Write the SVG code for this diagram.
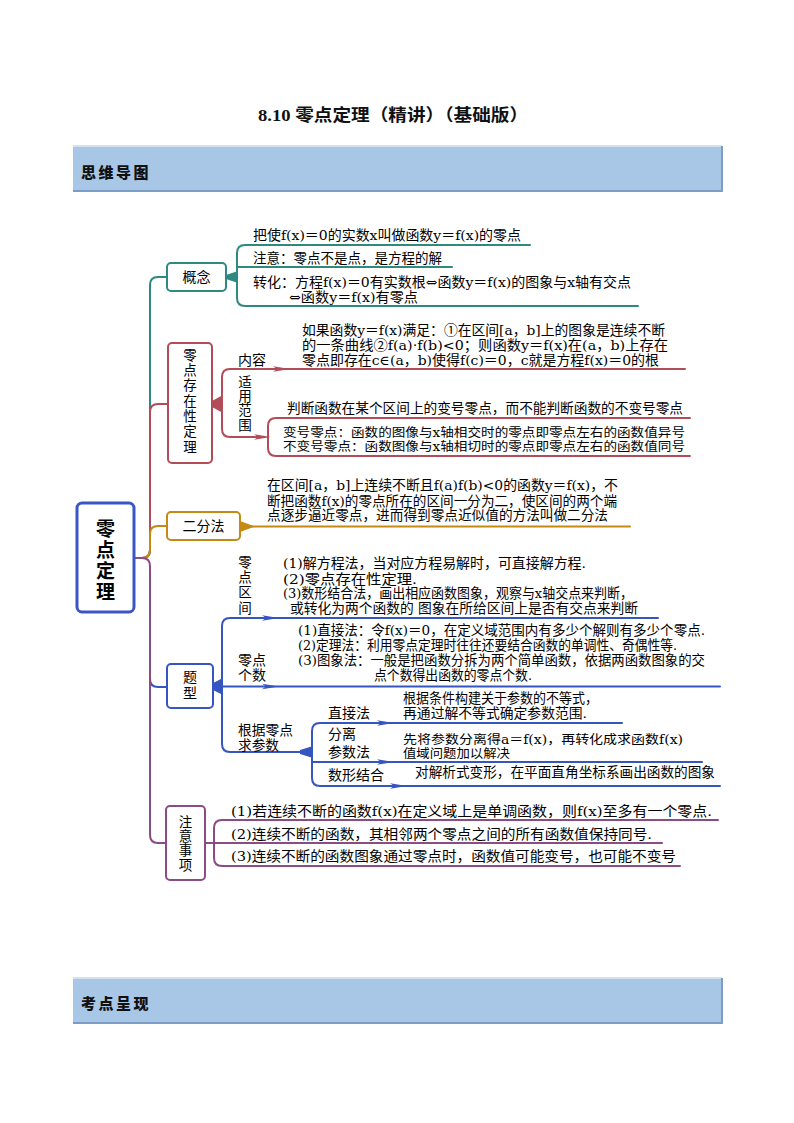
<svg xmlns="http://www.w3.org/2000/svg" width="794" height="1123" viewBox="0 0 794 1123">
<defs>
<path id="dart" d="M0,-2.8 L17,0 L0,2.8 L4,0 Z"/>
</defs>
<style>
.t{font-family:"DejaVu Serif","Noto Sans CJK SC",serif;font-size:13.5px;fill:#000}
.s{font-size:12.5px}
.lb{font-family:"Noto Sans CJK SC",sans-serif;font-size:14px;fill:#000}
.vt{font-family:"Noto Sans CJK SC",sans-serif;font-size:13.5px;fill:#000;writing-mode:vertical-rl}
.c{text-anchor:middle}
.title{font-family:"Liberation Serif","Noto Sans CJK SC",serif;font-size:17px;font-weight:bold;fill:#111}
.hd{font-family:"Noto Sans CJK SC",sans-serif;font-size:15px;font-weight:900;fill:#111;letter-spacing:2.5px}
.box{fill:#fff;stroke-width:2}
.ln{fill:none;stroke-width:2;stroke-linecap:round;stroke-linejoin:round}
.teal{stroke:#2E8A80}.tealf{fill:#2E8A80}
.mar{stroke:#B24C58}.marf{fill:#B24C58}
.gold{stroke:#C48A14}.goldf{fill:#C48A14}
.blue{stroke:#3555C0}.bluef{fill:#3555C0}
.pur{stroke:#8B4C86}.purf{fill:#8B4C86}
</style>

<rect width="794" height="1123" fill="#fff"/>

<text class="title" x="258" y="121" textLength="270" lengthAdjust="spacingAndGlyphs">8.10 零点定理（精讲）（基础版）</text>

<g id="header1">
<rect x="73" y="146" width="649" height="45" fill="#A8C6E6"/>
<line x1="73" y1="146" x2="722" y2="146" stroke="#D3E2F2" stroke-width="2"/>
<line x1="73" y1="191" x2="722" y2="191" stroke="#7C9CC8" stroke-width="2"/>
<line x1="722" y1="146" x2="722" y2="192" stroke="#7C9CC8" stroke-width="2"/>
<text class="hd" x="81" y="178">思维导图</text>
</g>

<g id="header2">
<rect x="73" y="978" width="649" height="45" fill="#A8C6E6"/>
<line x1="73" y1="978" x2="722" y2="978" stroke="#D3E2F2" stroke-width="2"/>
<line x1="73" y1="1023" x2="722" y2="1023" stroke="#7C9CC8" stroke-width="2"/>
<line x1="722" y1="978" x2="722" y2="1024" stroke="#7C9CC8" stroke-width="2"/>
<text class="hd" x="81" y="1009">考点呈现</text>
</g>

<g id="connectors">
<path class="ln teal" stroke-width="3" d="M134,558 H142 Q150,558 150,550 V285 Q150,277 158,277 H168"/>
<path class="ln mar" stroke-width="3" d="M134,558 H142 Q150,558 150,550 V412 Q150,404 158,404 H168"/>
<path class="ln gold" stroke-width="3.5" d="M134,558 H142 Q150,558 150,550 V534 Q150,526 158,526 H167"/>
<path class="ln blue" stroke-width="2.5" d="M150,679 Q150,687 158,687 H167"/>
<path class="ln pur" stroke-width="3.5" d="M134,558 H142 Q150,558 150,566 V835 Q150,843 158,843 H166"/>

<polygon class="tealf" points="226,275 238,271 238,283 226,279"/>
<path class="ln teal" d="M530,245 H245 Q237,245 237,253 V298 Q237,306 245,306 H638"/>
<path class="ln teal" d="M237,267 H452"/>

<polygon class="marf" points="212,401 223,395 223,413 212,407"/>
<path class="ln mar" d="M685,369 H230 Q222,369 222,377 V429 Q222,437 230,437 H262"/>
<use href="#dart" class="marf" x="273" y="369"/>
<use href="#dart" class="marf" x="254" y="437"/>
<path class="ln mar" d="M690,418 H276 Q268,418 268,426 V448 Q268,456 276,456 H690"/>

<polygon class="goldf" points="240,521 255,526.5 240,532"/>
<path class="ln gold" d="M240,526.5 H630"/>

<polygon class="bluef" points="213,683 223,678 223,695 213,690"/>
<path class="ln blue" d="M658,618 H230 Q222,618 222,626 V744 Q222,752 230,752 H304"/>
<path class="ln blue" d="M222,686.5 H720"/>
<use href="#dart" class="bluef" x="262" y="618"/>
<use href="#dart" class="bluef" x="262" y="686.5"/>
<polygon class="bluef" points="300,750 313,746 313,758 300,754"/>
<path class="ln blue" d="M622,723 H320 Q312,723 312,731 V778 Q312,786 320,786 H720"/>
<path class="ln blue" d="M312,762 H702"/>
<use href="#dart" class="bluef" x="377" y="723"/>
<use href="#dart" class="bluef" x="377" y="762"/>
<use href="#dart" class="bluef" x="390" y="786"/>

<path class="ln pur" d="M718,820 H222 Q214,820 214,828 V858 Q214,866 222,866 H680"/>
<path class="ln pur" d="M205,843 H662"/>
</g>

<g id="root">
<rect x="77" y="503" width="57" height="109" rx="5" fill="#fff" stroke="#3A56C4" stroke-width="3"/>
<text class="vt" x="105.5" y="519" style="font-size:19px;font-weight:bold;letter-spacing:2px">零点定理</text>
</g>

<g id="node-gainian">
<rect class="box teal" x="167" y="263" width="59" height="28" rx="4"/>
<text class="lb c" x="196.5" y="282">概念</text>
<text class="t" x="253" y="240" textLength="268" lengthAdjust="spacingAndGlyphs">把使f(x)＝0的实数x叫做函数y＝f(x)的零点</text>
<text class="t" x="253" y="263" textLength="189" lengthAdjust="spacingAndGlyphs">注意：零点不是点，是方程的解</text>
<text class="t" x="253" y="287" textLength="378" lengthAdjust="spacingAndGlyphs">转化：方程f(x)＝0有实数根⇔函数y＝f(x)的图象与x轴有交点</text>
<text class="t" x="289" y="302" textLength="129" lengthAdjust="spacingAndGlyphs">⇔函数y＝f(x)有零点</text>
</g>

<g id="node-cunzai">
<rect class="box mar" x="168" y="343" width="44" height="120" rx="4"/>
<text class="vt" x="190" y="348" letter-spacing="1.8">零点存在性定理</text>
<text class="lb" x="238" y="365">内容</text>
<text class="vt" x="245" y="375" letter-spacing="0.8">适用范围</text>
<text class="t" x="302" y="335" textLength="363" lengthAdjust="spacingAndGlyphs">如果函数y＝f(x)满足：①在区间[a，b]上的图象是连续不断</text>
<text class="t" x="302" y="350" textLength="366" lengthAdjust="spacingAndGlyphs">的一条曲线②f(a)·f(b)&lt;0；则函数y＝f(x)在(a，b)上存在</text>
<text class="t" x="302" y="365" textLength="357" lengthAdjust="spacingAndGlyphs">零点即存在c∈(a，b)使得f(c)＝0，c就是方程f(x)＝0的根</text>
<text class="t" x="287" y="413" textLength="396" lengthAdjust="spacingAndGlyphs">判断函数在某个区间上的变号零点，而不能判断函数的不变号零点</text>
<text class="t s" x="283" y="437" textLength="402" lengthAdjust="spacingAndGlyphs">变号零点：函数的图像与x轴相交时的零点即零点左右的函数值异号</text>
<text class="t s" x="283" y="451" textLength="402" lengthAdjust="spacingAndGlyphs">不变号零点：函数图像与x轴相切时的零点即零点左右的函数值同号</text>
</g>

<g id="node-erfen">
<rect class="box gold" x="167" y="512" width="73" height="28" rx="4"/>
<text class="lb c" x="203.5" y="531">二分法</text>
<text class="t" x="267" y="490" textLength="351" lengthAdjust="spacingAndGlyphs">在区间[a，b]上连续不断且f(a)f(b)&lt;0的函数y＝f(x)，不</text>
<text class="t" x="267" y="506" textLength="350" lengthAdjust="spacingAndGlyphs">断把函数f(x)的零点所在的区间一分为二，使区间的两个端</text>
<text class="t" x="267" y="520" textLength="341" lengthAdjust="spacingAndGlyphs">点逐步逼近零点，进而得到零点近似值的方法叫做二分法</text>
</g>

<g id="node-tixing">
<rect class="box blue" x="167" y="664" width="46" height="44" rx="4"/>
<text class="vt" x="190" y="670" style="font-size:14px;letter-spacing:2px">题型</text>
<text class="vt" x="245" y="555" letter-spacing="1.8">零点区间</text>
<text class="t" x="283" y="568" textLength="303" lengthAdjust="spacingAndGlyphs">(1)解方程法，当对应方程易解时，可直接解方程.</text>
<text class="t" x="283" y="584" textLength="134" lengthAdjust="spacingAndGlyphs">(2)零点存在性定理.</text>
<text class="t" x="283" y="598" textLength="350" lengthAdjust="spacingAndGlyphs">(3)数形结合法，画出相应函数图象，观察与x轴交点来判断，</text>
<text class="t" x="290" y="613" textLength="348" lengthAdjust="spacingAndGlyphs">或转化为两个函数的 图象在所给区间上是否有交点来判断</text>
<text class="t" x="238" y="665" textLength="28" lengthAdjust="spacingAndGlyphs">零点</text>
<text class="t" x="238" y="680" textLength="28" lengthAdjust="spacingAndGlyphs">个数</text>
<text class="t" x="298" y="635" textLength="407" lengthAdjust="spacingAndGlyphs">(1)直接法：令f(x)＝0，在定义域范围内有多少个解则有多少个零点.</text>
<text class="t" x="298" y="650" textLength="379" lengthAdjust="spacingAndGlyphs">(2)定理法：利用零点定理时往往还要结合函数的单调性、奇偶性等.</text>
<text class="t" x="298" y="665" textLength="407" lengthAdjust="spacingAndGlyphs">(3)图象法：一般是把函数分拆为两个简单函数，依据两函数图象的交</text>
<text class="t" x="374" y="680" textLength="158" lengthAdjust="spacingAndGlyphs">点个数得出函数的零点个数.</text>
<text class="t" x="238" y="735" textLength="55" lengthAdjust="spacingAndGlyphs">根据零点</text>
<text class="t" x="238" y="750" textLength="41" lengthAdjust="spacingAndGlyphs">求参数</text>
<text class="lb" x="328" y="718">直接法</text>
<text class="t" x="403" y="703" textLength="195" lengthAdjust="spacingAndGlyphs">根据条件构建关于参数的不等式，</text>
<text class="t" x="403" y="718" textLength="184" lengthAdjust="spacingAndGlyphs">再通过解不等式确定参数范围.</text>
<text class="lb" x="328" y="739">分离</text>
<text class="lb" x="328" y="757">参数法</text>
<text class="t s" x="403" y="744" textLength="280" lengthAdjust="spacingAndGlyphs">先将参数分离得a＝f(x)，再转化成求函数f(x)</text>
<text class="t s" x="403" y="758" textLength="107" lengthAdjust="spacingAndGlyphs">值域问题加以解决</text>
<text class="lb" x="328" y="780">数形结合</text>
<text class="t" x="415" y="777" textLength="300" lengthAdjust="spacingAndGlyphs">对解析式变形，在平面直角坐标系画出函数的图象</text>
</g>

<g id="node-zhuyi">
<rect class="box pur" x="166" y="806" width="39" height="74" rx="4"/>
<text class="vt" x="185.5" y="815" letter-spacing="0.8">注意事项</text>
<text class="t" x="231" y="816" textLength="481" lengthAdjust="spacingAndGlyphs">(1)若连续不断的函数f(x)在定义域上是单调函数，则f(x)至多有一个零点.</text>
<text class="t" x="231" y="839" textLength="421" lengthAdjust="spacingAndGlyphs">(2)连续不断的函数，其相邻两个零点之间的所有函数值保持同号.</text>
<text class="t" x="231" y="861" textLength="445" lengthAdjust="spacingAndGlyphs">(3)连续不断的函数图象通过零点时，函数值可能变号，也可能不变号</text>
</g>
</svg>
